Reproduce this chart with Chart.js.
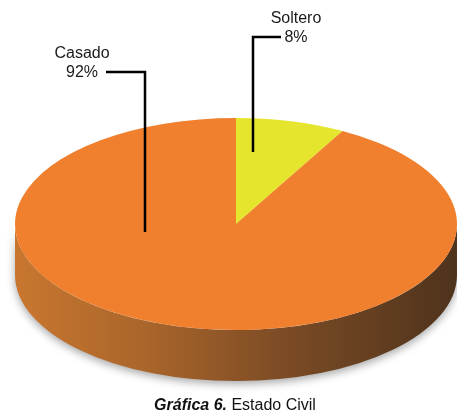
<!DOCTYPE html>
<html lang="es">
<head>
<meta charset="utf-8">
<title>Estado Civil</title>
<script src="https://cdn.jsdelivr.net/npm/chart.js@4/dist/chart.umd.min.js"></script>
<style>
  html, body { margin: 0; padding: 0; background: #fff; }
  #wrap { width: 457px; height: 416px; }
</style>
</head>
<body>
<div id="wrap"><canvas id="grafica" width="457" height="416"></canvas></div>
<script>
// ====================
// datos
// ====================
const categorias = ["Soltero", "Casado"];
const porcentajes = [8, 92];
const colores = ["#e6e52d", "#f07f2e"];

// ====================
// forma del pastel 3D (elipse + canto)
// ====================
const RX = 221;      // radio horizontal de la cara superior
const RY = 106;      // radio vertical de la cara superior
const GROSOR = 51;   // alto del canto

// posición de cada etiqueta y su línea guía
const guias = {
    Soltero: { x: 296, y: 19, linea: [[281, 37], [253, 37], [253, 152]] },
    Casado:  { x: 82,  y: 54, linea: [[106, 72], [145, 72], [145, 232]] }
};

const fuente = '"Liberation Sans", Arial, sans-serif';

// canto del pastel, dibujado antes de la cara superior
function dibujarCanto(ctx, arcos) {
    const cx = arcos[0].x, cy = arcos[0].y;
    const grad = ctx.createLinearGradient(cx - RX, 0, cx + RX, 0);
    grad.addColorStop(0, "#c9772f");
    grad.addColorStop(0.3, "#a9652b");
    grad.addColorStop(0.6, "#7d4c25");
    grad.addColorStop(1, "#4e331c");

    arcos.forEach(arc => {
        // solo la mitad delantera (ángulos 0..π) se ve
        const a1 = Math.max(arc.startAngle, 0);
        const a2 = Math.min(arc.endAngle, Math.PI);
        if (a2 <= a1) return;
        ctx.save();
        ctx.shadowColor = "rgba(0,0,0,0.35)";
        ctx.shadowBlur = 8;
        ctx.shadowOffsetY = 3;
        ctx.beginPath();
        ctx.ellipse(cx, cy, RX, RY, 0, a1, a2);
        ctx.ellipse(cx, cy + GROSOR, RX, RY, 0, a2, a1, true);
        ctx.closePath();
        ctx.fillStyle = grad;
        ctx.fill();
        ctx.restore();
    });
}

const pastel3D = {
    id: "pastel3D",
    beforeDatasetsDraw(chart) {
        const ctx = chart.ctx;
        const arcos = chart.getDatasetMeta(0).data;
        dibujarCanto(ctx, arcos);

        // aplastar el círculo para que quede como elipse
        const { x, y, outerRadius } = arcos[0];
        ctx.save();
        ctx.translate(x, y);
        ctx.scale(RX / outerRadius, RY / outerRadius);
        ctx.translate(-x, -y);
    },
    afterDatasetsDraw(chart) {
        chart.ctx.restore();
    },
    afterDraw(chart) {
        const ctx = chart.ctx;
        ctx.save();

        // etiquetas con líneas guía
        categorias.forEach((cat, i) => {
            const g = guias[cat];
            ctx.fillStyle = "#1a1a1a";
            ctx.font = "16px " + fuente;
            ctx.textAlign = "center";
            ctx.textBaseline = "middle";
            ctx.fillText(cat, g.x, g.y);
            ctx.fillText(porcentajes[i] + "%", g.x, g.y + 19);

            ctx.strokeStyle = "#000";
            ctx.lineWidth = 2.5;
            ctx.lineJoin = "miter";
            ctx.beginPath();
            g.linea.forEach(([px, py], k) => k ? ctx.lineTo(px, py) : ctx.moveTo(px, py));
            ctx.stroke();
        });

        // pie de gráfica
        const t1 = "Gráfica 6.";
        const t2 = " Estado Civil";
        ctx.textBaseline = "middle";
        ctx.textAlign = "left";
        ctx.font = "italic bold 16px " + fuente;
        const w1 = ctx.measureText(t1).width;
        ctx.font = "16px " + fuente;
        const w2 = ctx.measureText(t2).width;
        const x0 = 235 - (w1 + w2) / 2;
        ctx.fillStyle = "#111";
        ctx.font = "italic bold 16px " + fuente;
        ctx.fillText(t1, x0, 406);
        ctx.font = "16px " + fuente;
        ctx.fillText(t2, x0 + w1, 406);

        ctx.restore();
    }
};

new Chart(document.getElementById("grafica"), {
    type: "pie",
    data: {
        labels: categorias,
        datasets: [{
            data: porcentajes,
            backgroundColor: colores,
            borderWidth: 0,
            clip: false
        }]
    },
    options: {
        responsive: false,
        animation: false,
        events: [],
        // área cuadrada centrada en (236, 224), radio 180
        layout: { padding: { left: 56, right: 41, top: 44, bottom: 12 } },
        plugins: {
            legend: { display: false },
            tooltip: { enabled: false }
        }
    },
    plugins: [pastel3D]
});
</script>
</body>
</html>
